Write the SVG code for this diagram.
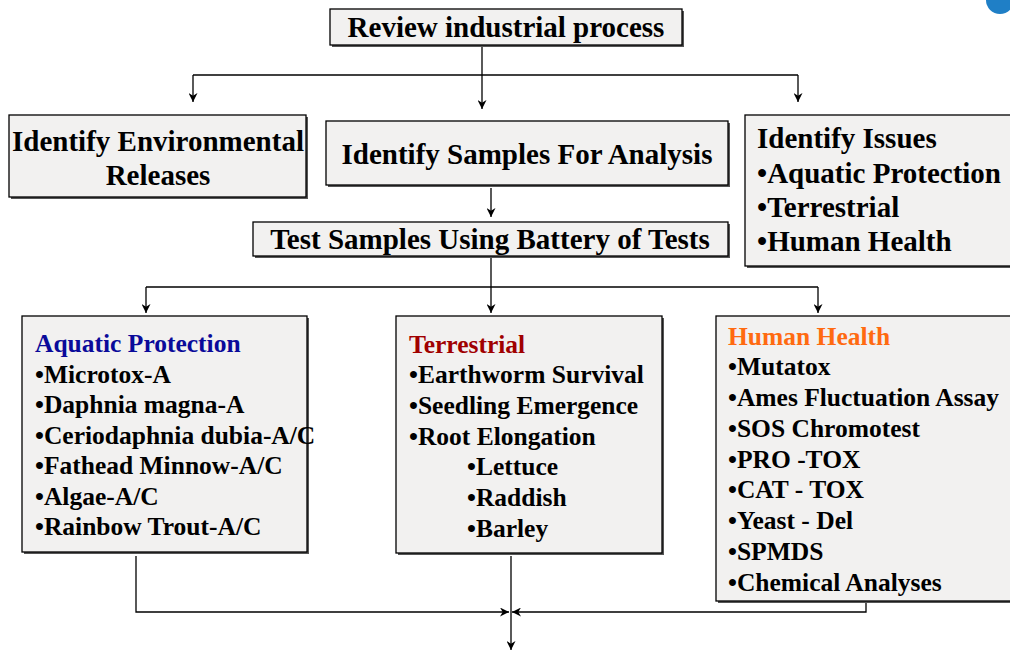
<svg xmlns="http://www.w3.org/2000/svg" width="1010" height="652" viewBox="0 0 1010 652">
<defs>
<marker id="ah" viewBox="0 0 10 10" refX="10" refY="5" markerWidth="9" markerHeight="9" markerUnits="userSpaceOnUse" orient="auto">
<path d="M0,0 L10,5 L0,10 L3,5 Z" fill="#000"/>
</marker>
<style>
.box{fill:#f2f1f0;stroke:#000;stroke-width:1.3}
.sh{fill:#555}
.t{font-family:"Liberation Serif","Times New Roman",serif;font-weight:bold;fill:#000}
.h{font-size:29px}
.l{font-size:25.5px}
.c{stroke:#000;stroke-width:1.3;fill:none}
</style>
</defs>
<rect width="1010" height="652" fill="#fff"/>
<circle cx="1000" cy="0" r="14" fill="#1f7fc6"/>
<g id="connectors">
<path class="c" d="M482,45 V109" marker-end="url(#ah)"/>
<path class="c" d="M193,75 H798"/>
<path class="c" d="M193,75 V102" marker-end="url(#ah)"/>
<path class="c" d="M798,75 V102" marker-end="url(#ah)"/>
<path class="c" d="M491,188 V217" marker-end="url(#ah)"/>
<path class="c" d="M491,257 V313" marker-end="url(#ah)"/>
<path class="c" d="M146,287 H818"/>
<path class="c" d="M146,287 V313" marker-end="url(#ah)"/>
<path class="c" d="M818,287 V313" marker-end="url(#ah)"/>
<path class="c" d="M136,556 V612 H509" marker-end="url(#ah)"/>
<path class="c" d="M866,603 V612 H512" marker-end="url(#ah)"/>
<path class="c" d="M511,556 V650" marker-end="url(#ah)"/>
</g>
<g id="review">
<rect class="sh" x="332" y="11" width="352" height="36"/>
<rect class="box" x="330" y="9" width="352" height="36"/>
<text class="t h" x="506" y="37" text-anchor="middle">Review industrial process</text>
</g>
<g id="env">
<rect class="sh" x="11" y="117" width="297" height="82"/>
<rect class="box" x="9" y="115" width="297" height="82"/>
<text class="t h" x="158" y="151" text-anchor="middle">Identify Environmental</text>
<text class="t h" x="158" y="185" text-anchor="middle">Releases</text>
</g>
<g id="samples">
<rect class="sh" x="328" y="123" width="402" height="64"/>
<rect class="box" x="326" y="121" width="402" height="64"/>
<text class="t h" x="527" y="164" text-anchor="middle">Identify Samples For Analysis</text>
</g>
<g id="issues">
<rect class="sh" x="747" y="117" width="270" height="151"/>
<rect class="box" x="745" y="115" width="272" height="151"/>
<text class="t h" x="757" y="148">Identify Issues</text>
<text class="t h" x="757" y="183">•Aquatic Protection</text>
<text class="t h" x="757" y="217">•Terrestrial</text>
<text class="t h" x="757" y="251">•Human Health</text>
</g>
<g id="battery">
<rect class="sh" x="255" y="224" width="475" height="34"/>
<rect class="box" x="253" y="222" width="475" height="34"/>
<text class="t h" x="490" y="249" text-anchor="middle">Test Samples Using Battery of Tests</text>
</g>
<g id="aquatic">
<rect class="sh" x="24" y="318" width="285" height="236"/>
<rect class="box" x="22" y="316" width="285" height="236"/>
<text class="t l" x="35" y="352" style="fill:#0a0a9a">Aquatic Protection</text>
<text class="t l" x="35" y="383">•Microtox-A</text>
<text class="t l" x="35" y="413">•Daphnia magna-A</text>
<text class="t l" x="35" y="444">•Ceriodaphnia dubia-A/C</text>
<text class="t l" x="35" y="474">•Fathead Minnow-A/C</text>
<text class="t l" x="35" y="505">•Algae-A/C</text>
<text class="t l" x="35" y="535">•Rainbow Trout-A/C</text>
</g>
<g id="terrestrial">
<rect class="sh" x="398" y="318" width="266" height="237"/>
<rect class="box" x="396" y="316" width="266" height="237"/>
<text class="t l" x="409" y="353" style="fill:#a00000">Terrestrial</text>
<text class="t l" x="409" y="383">•Earthworm Survival</text>
<text class="t l" x="409" y="414">•Seedling Emergence</text>
<text class="t l" x="409" y="445">•Root Elongation</text>
<text class="t l" x="467" y="475">•Lettuce</text>
<text class="t l" x="467" y="506">•Raddish</text>
<text class="t l" x="467" y="537">•Barley</text>
</g>
<g id="human">
<rect class="sh" x="718" y="318" width="294" height="285"/>
<rect class="box" x="716" y="316" width="296" height="285"/>
<text class="t l" x="728" y="345" style="fill:#ff6a10">Human Health</text>
<text class="t l" x="728" y="375">•Mutatox</text>
<text class="t l" x="728" y="406">•Ames Fluctuation Assay</text>
<text class="t l" x="728" y="437">•SOS Chromotest</text>
<text class="t l" x="728" y="468">•PRO -TOX</text>
<text class="t l" x="728" y="498">•CAT - TOX</text>
<text class="t l" x="728" y="529">•Yeast - Del</text>
<text class="t l" x="728" y="560">•SPMDS</text>
<text class="t l" x="728" y="591">•Chemical Analyses</text>
</g>
</svg>
